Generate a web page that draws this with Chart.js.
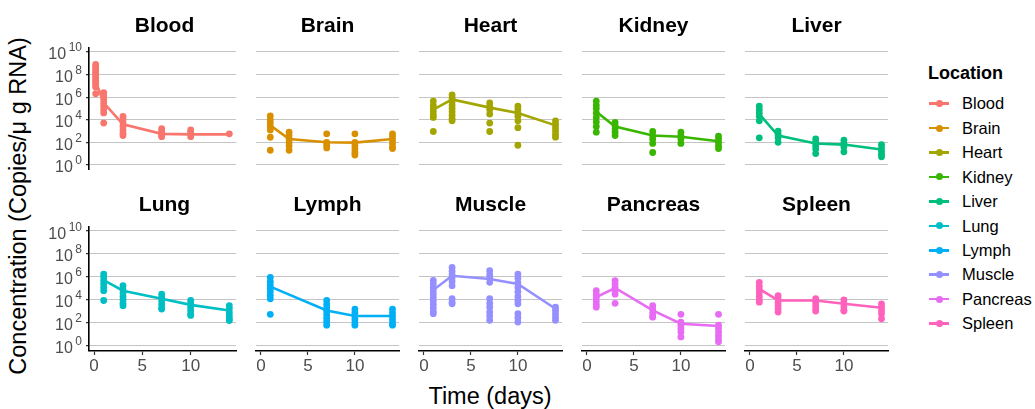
<!DOCTYPE html>
<html>
<head>
<meta charset="utf-8">
<script src="https://cdn.jsdelivr.net/npm/chart.js@4.4.0/dist/chart.umd.min.js"></script>
<style>
    body { margin: 0; background: #fff; font-family: "Liberation Sans", Arial, sans-serif; }
    #wrap { position: relative; width: 1035px; height: 409px; overflow: hidden; }
    #wrap canvas { position: absolute; }
    .axis-title { position: absolute; font-size: 23.5px; line-height: 1; white-space: nowrap; color: #000; }
    #ytitle { left: 18.5px; top: 206px; transform: translate(-50%, -50%) rotate(-90deg); }
    #xtitle { left: 490px; top: 397px; transform: translate(-50%, -50%); }
    #legend-title { position: absolute; left: 928px; top: 62px; font-size: 18px; font-weight: bold; line-height: 22px; }
    .leg-item { position: absolute; left: 929px; height: 24px; line-height: 24px; font-size: 16.5px; white-space: nowrap; }
    .leg-key { position: absolute; left: 0; top: 11px; width: 20px; height: 2.6px; }
    .leg-dot { position: absolute; left: 6.7px; top: -2.2px; width: 7px; height: 7px; border-radius: 50%; }
    .leg-label { position: absolute; left: 33px; top: 0; }
</style>
</head>
<body>
<div id="wrap">
    <div id="ytitle" class="axis-title">Concentration (Copies/μ g RNA)</div>
    <div id="xtitle" class="axis-title">Time (days)</div>
    <div id="legend-title">Location</div>
</div>
<script>
// values are log10(copies / µg RNA)
var locations = ['Blood', 'Brain', 'Heart', 'Kidney', 'Liver', 'Lung', 'Lymph', 'Muscle', 'Pancreas', 'Spleen'];
var colors = ['#F8766D', '#D89000', '#A3A500', '#39B600', '#00BF7D', '#00BFC4', '#00B0F6', '#9590FF', '#E76BF3', '#FF62BC'];

var timesBlood = [0.17, 1, 3, 7, 10, 14];
var timesStd = [1, 3, 7, 10, 14];
var timesLymph = [1, 7, 10, 14];

var xTicks = [0, 5, 10];
var yExponents = [0, 2, 4, 6, 8, 10];

var bloodLog = [[8.9, 8.7, 8.5, 8.3, 8.1, 7.9, 7.7, 7.5, 7.3, 7.1, 6.9, 6.3], [6.4, 6.1, 5.8, 5.5, 5.2, 4.9, 4.6, 3.7], [4.3, 4.0, 3.7, 3.4, 3.1, 2.8, 2.6], [3.2, 3.0, 2.8, 2.6, 2.5], [3.1, 2.9, 2.7, 2.5], [2.75]];
var bloodMean = [7.4, 5.5, 3.6, 2.75, 2.7, 2.7];

var brainLog = [[4.35, 4.0, 3.7, 3.4, 3.1, 2.45, 1.3], [2.9, 2.6, 2.3, 2.0, 1.7, 1.3], [2.75, 2.0, 1.75, 1.5], [2.75, 2.0, 1.7, 1.4, 1.1, 0.87], [2.75, 2.5, 2.2, 1.9, 1.6, 1.45]];
var brainMean = [3.5, 2.3, 2.0, 1.97, 2.3];

var heartLog = [[5.65, 5.3, 5.0, 4.7, 4.4, 4.2, 2.96], [6.2, 5.9, 5.6, 5.3, 5.0, 4.7, 4.4, 4.1, 3.9], [5.5, 5.2, 4.9, 4.5, 3.7, 2.96], [5.2, 4.9, 4.6, 4.3, 3.9, 3.3, 1.74], [3.9, 3.6, 3.3, 3.0, 2.7, 2.46]];
var heartMean = [4.9, 5.8, 5.07, 4.6, 3.5];

var kidneyLog = [[5.65, 5.3, 5.0, 4.6, 4.2, 3.8, 3.4, 2.9], [3.77, 3.5, 3.2, 2.9, 2.6], [2.96, 2.6, 2.3, 1.9, 1.1], [2.9, 2.6, 2.3, 1.9], [2.55, 2.3, 2.0, 1.7, 1.45]];
var kidneyMean = [4.7, 3.4, 2.6, 2.5, 2.1];

var liverLog = [[5.2, 4.9, 4.6, 4.3, 3.9, 2.4], [3.0, 2.7, 2.4, 2.0], [2.3, 2.0, 1.7, 1.4, 1.0], [2.2, 1.9, 1.6, 1.16], [1.8, 1.5, 1.2, 0.95, 0.72]];
var liverMean = [4.5, 2.6, 1.9, 1.8, 1.36];

var lungLog = [[6.25, 6.0, 5.7, 5.4, 5.1, 4.8, 3.95], [5.24, 4.9, 4.6, 4.3, 4.0, 3.7, 3.5], [4.5, 4.2, 3.9, 3.6, 3.3, 3.2], [3.95, 3.7, 3.4, 3.1, 2.8, 2.65], [3.5, 3.2, 2.9, 2.6, 2.35, 2.2]];
var lungMean = [5.73, 4.8, 4.1, 3.57, 3.08];

var lymphLog = [[5.96, 5.6, 5.3, 5.0, 4.7, 4.4, 4.1, 2.74], [3.95, 3.6, 3.3, 3.0, 2.7, 2.4, 2.1, 1.8], [3.2, 2.9, 2.6, 2.3, 2.0, 1.8], [3.2, 2.9, 2.6, 2.3, 2.0, 1.8]];
var lymphMean = [5.16, 3.08, 2.6, 2.6];

var muscleLog = [[5.7, 5.4, 5.1, 4.8, 4.5, 4.2, 3.9, 3.6, 3.3, 3.0, 2.8], [6.83, 6.5, 6.2, 5.9, 5.6, 5.24, 4.1, 3.8, 3.66], [6.54, 6.2, 5.9, 5.53, 4.1, 3.7, 3.37, 2.94, 2.6, 2.22], [6.25, 5.9, 5.5, 5.1, 4.7, 4.3, 3.95, 3.66, 2.8, 2.45, 2.07], [3.37, 3.1, 2.8, 2.5, 2.22]];
var muscleMean = [4.87, 6.1, 5.82, 5.39, 3.23];

var pancreasLog = [[4.8, 4.5, 4.2, 3.9, 3.6, 3.37], [5.68, 5.4, 5.1, 4.8, 4.5, 3.7], [3.5, 3.2, 2.9, 2.6, 2.5], [2.74, 2.07, 1.8, 1.5, 1.2, 0.78], [2.74, 1.8, 1.5, 1.2, 0.9, 0.6, 0.35]];
var pancreasMean = [4.24, 5.04, 3.08, 1.93, 1.73];

var spleenLog = [[5.53, 5.2, 4.9, 4.6, 4.3, 4.0, 3.8], [4.38, 4.1, 3.8, 3.5, 3.2, 2.94], [4.1, 3.8, 3.5, 3.2, 3.03], [4.0, 3.7, 3.4, 3.1, 3.03], [3.66, 3.4, 3.1, 2.8, 2.36]];
var spleenMean = [4.96, 3.95, 3.95, 3.66, 3.31];

var panelTimes = [timesBlood, timesStd, timesStd, timesStd, timesStd, timesStd, timesLymph, timesStd, timesStd, timesStd];
var panelPoints = [bloodLog, brainLog, heartLog, kidneyLog, liverLog, lungLog, lymphLog, muscleLog, pancreasLog, spleenLog];
var panelMeans = [bloodMean, brainMean, heartMean, kidneyMean, liverMean, lungMean, lymphMean, muscleMean, pancreasMean, spleenMean];

var FONT = '"Liberation Sans", Arial, sans-serif';
Chart.defaults.font.family = FONT;

function toPoints(times, groups) {
    var out = [];
    for (var i = 0; i < times.length; i++) {
        for (var j = 0; j < groups[i].length; j++) {
            out.push({ x: times[i], y: Math.pow(10, groups[i][j]) });
        }
    }
    return out;
}

function toLine(times, means) {
    return times.map(function (t, i) {
        return { x: t, y: Math.pow(10, means[i]) };
    });
}

// 10^n labels with a raised exponent, only on the left column
var expLabels = {
    id: 'expLabels',
    afterDraw: function (chart) {
        var ctx = chart.ctx;
        var scale = chart.scales.y;
        var right = chart.chartArea.left - 7;
        ctx.save();
        ctx.fillStyle = '#4D4D4D';
        ctx.textBaseline = 'alphabetic';
        yExponents.forEach(function (e) {
            var py = scale.getPixelForValue(Math.pow(10, e));
            var sup = String(e);
            ctx.font = '12px ' + FONT;
            var ws = ctx.measureText(sup).width;
            ctx.textAlign = 'left';
            ctx.fillText(sup, right - ws, py - 0.5);
            ctx.font = '16px ' + FONT;
            ctx.textAlign = 'right';
            ctx.fillText('10', right - ws - 2.5, py + 7.5);
        });
        ctx.restore();
    }
};

function makePanel(idx) {
    var col = idx % 5;
    var row = Math.floor(idx / 5);
    var padLeft = col == 0 ? 60 : 0;
    var canvas = document.createElement('canvas');
    canvas.width = padLeft + 151;
    canvas.height = row == 0 ? 159 : 187;
    canvas.style.left = (89 + 163 * col - padLeft) + 'px';
    canvas.style.top = (row == 0 ? 15 : 194) + 'px';
    document.getElementById('wrap').appendChild(canvas);

    var color = colors[idx];
    new Chart(canvas.getContext('2d'), {
        type: 'scatter',
        data: {
            datasets: [
                {
                    type: 'line',
                    data: toLine(panelTimes[idx], panelMeans[idx]),
                    borderColor: color,
                    borderWidth: 2.6,
                    pointRadius: 0,
                    fill: false,
                    tension: 0
                },
                {
                    data: toPoints(panelTimes[idx], panelPoints[idx]),
                    backgroundColor: color,
                    borderWidth: 0,
                    pointRadius: 3.4
                }
            ]
        },
        options: {
            responsive: false,
            animation: false,
            devicePixelRatio: 1,
            // top row keeps 2px below the panel so the axis line end is not cut
            layout: { padding: { left: padLeft, right: 0, top: 0, bottom: row == 0 ? 2 : 0 } },
            plugins: {
                legend: { display: false },
                tooltip: { enabled: false },
                title: {
                    display: true,
                    text: locations[idx],
                    color: '#000',
                    font: { size: 21, weight: 'bold', lineHeight: 1 },
                    padding: { top: 1, bottom: 11 }
                }
            },
            scales: {
                x: {
                    type: 'linear',
                    min: -0.52,
                    max: 14.69,
                    display: row == 1,
                    afterBuildTicks: function (s) {
                        s.ticks = xTicks.map(function (v) { return { value: v }; });
                    },
                    afterFit: function (s) { s.height = row == 1 ? 30 : 0; },
                    grid: { drawOnChartArea: false, drawTicks: true, tickLength: 4, tickColor: '#333', tickWidth: 1.2 },
                    border: { display: true, color: '#000', width: 1.6 },
                    ticks: { color: '#4D4D4D', font: { size: 17 }, padding: 1, maxRotation: 0 }
                },
                y: {
                    type: 'logarithmic',
                    min: Math.pow(10, -0.45),
                    max: Math.pow(10, 10.35),
                    bounds: 'data',
                    afterBuildTicks: function (s) {
                        s.ticks = yExponents.map(function (e) { return { value: Math.pow(10, e) }; });
                    },
                    afterFit: function (s) { s.width = 0; },
                    ticks: { display: false },
                    grid: { color: '#C4C4C4', lineWidth: 1.1, drawTicks: col == 0, tickLength: 3, tickColor: '#333', tickWidth: 1.2 },
                    border: { display: col == 0, color: '#000', width: 1.6 }
                }
            }
        },
        plugins: col == 0 ? [expLabels] : []
    });
}

function makeLegend() {
    var wrap = document.getElementById('wrap');
    for (var i = 0; i < locations.length; i++) {
        var item = document.createElement('div');
        item.className = 'leg-item';
        item.style.top = (103.3 + 24.45 * i - 12) + 'px';
        item.innerHTML = '<div class="leg-key" style="background:' + colors[i] + '">' +
            '<div class="leg-dot" style="background:' + colors[i] + '"></div></div>' +
            '<span class="leg-label">' + locations[i] + '</span>';
        wrap.appendChild(item);
    }
}

for (var p = 0; p < locations.length; p++) {
    makePanel(p);
}
makeLegend();
</script>
</body>
</html>
